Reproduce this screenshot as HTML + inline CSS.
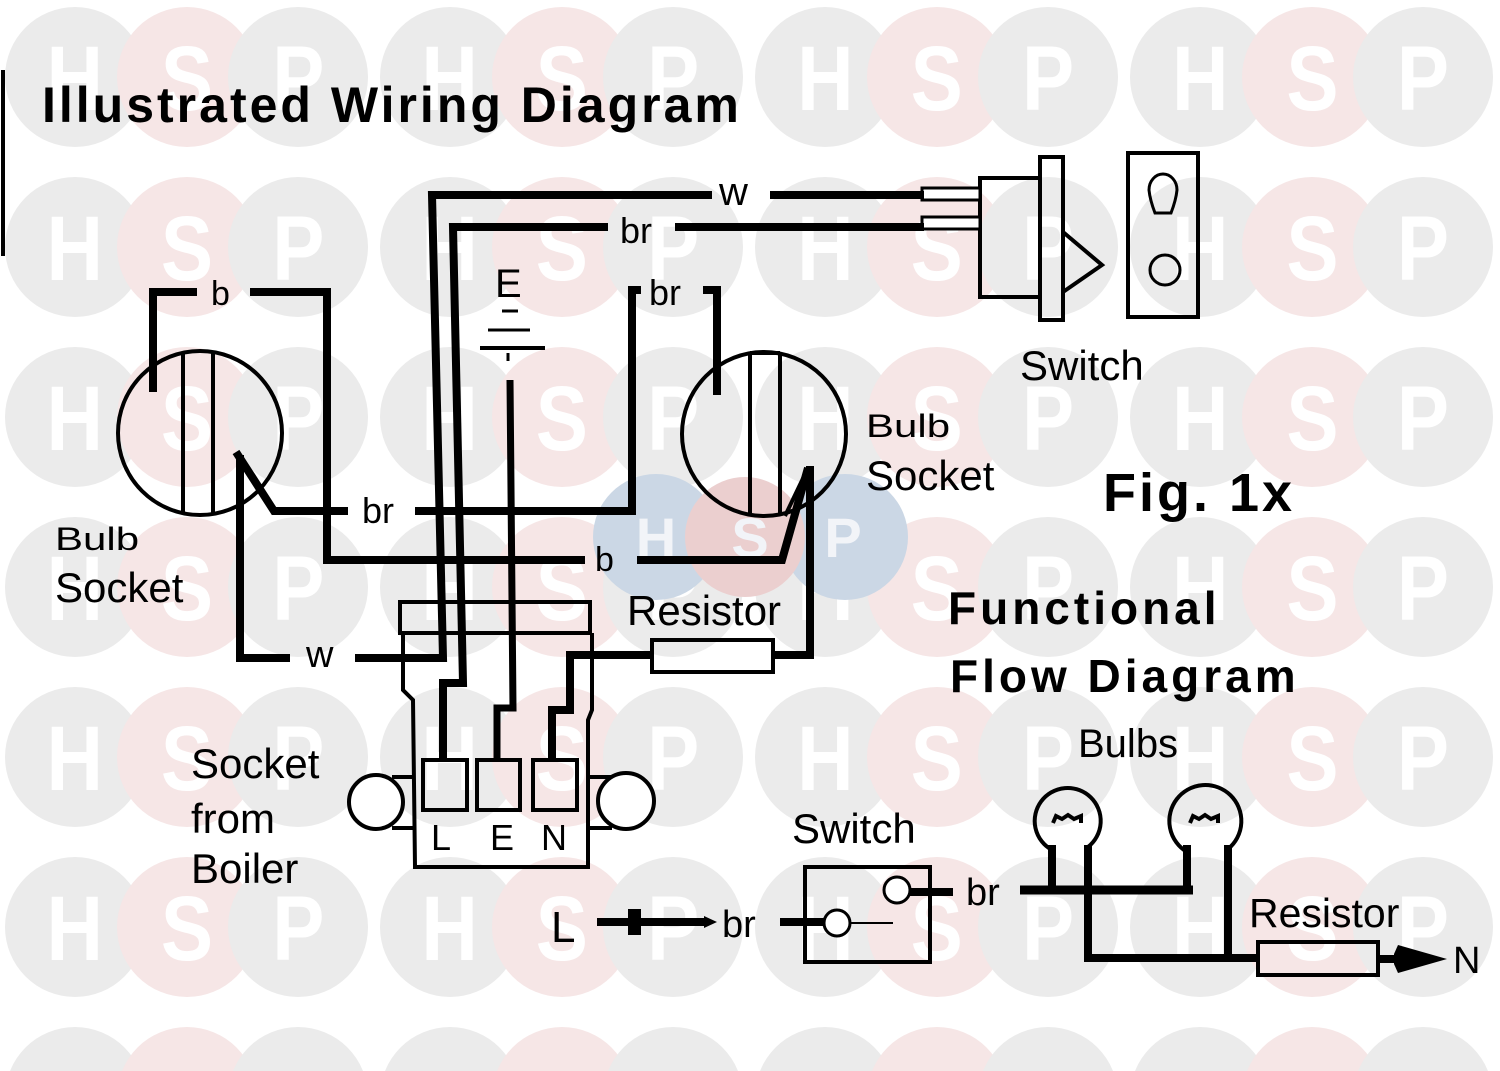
<!DOCTYPE html>
<html>
<head>
<meta charset="utf-8">
<style>
html,body{margin:0;padding:0;background:#fff;width:1500px;height:1071px;overflow:hidden;}
svg{display:block;}
text{font-family:"Liberation Sans",sans-serif;}
</style>
</head>
<body>
<svg width="1500" height="1071" viewBox="0 0 1500 1071" xmlns="http://www.w3.org/2000/svg">
<defs>
<pattern id="wm" patternUnits="userSpaceOnUse" x="0" y="0" width="375" height="170">
<circle cx="75" cy="77" r="70" fill="#ebebeb"/>
<circle cx="187" cy="77" r="70" fill="#f6e6e6"/>
<circle cx="298" cy="77" r="70" fill="#ebebeb"/>
</pattern>
</defs>
<rect x="0" y="0" width="1500" height="1071" fill="#fff"/>
<rect x="0" y="0" width="1500" height="1071" fill="url(#wm)"/>
<g transform="scale(0.85,1)" fill="#ffffff" font-weight="bold" font-size="92" text-anchor="middle">
<text x="88 220 351 529 661 792 971 1102 1233 1412 1544 1674" y="110">HSPHSPHSPHSP</text>
<text x="88 220 351 529 661 792 971 1102 1233 1412 1544 1674" y="280">HSPHSPHSPHSP</text>
<text x="88 220 351 529 661 792 971 1102 1233 1412 1544 1674" y="450">HSPHSPHSPHSP</text>
<text x="88 220 351 529 661 792 971 1102 1233 1412 1544 1674" y="620">HSPHSPHSPHSP</text>
<text x="88 220 351 529 661 792 971 1102 1233 1412 1544 1674" y="790">HSPHSPHSPHSP</text>
<text x="88 220 351 529 661 792 971 1102 1233 1412 1544 1674" y="960">HSPHSPHSPHSP</text>
</g>

<!-- center watermark -->
<circle cx="656" cy="537" r="63" fill="#cbd7e5"/>
<circle cx="845" cy="537" r="63" fill="#cbd7e5"/>
<circle cx="745" cy="537" r="60" fill="#ebcfcf"/>
<g fill="#f2f4f8" font-weight="bold" font-size="56" text-anchor="middle">
<text x="656" y="557">H</text>
<text x="750" y="557">S</text>
<text x="843" y="557">P</text>
</g>

<!-- left border mark -->
<line x1="3" y1="70" x2="3" y2="256" stroke="#000" stroke-width="4"/>

<!-- Title -->
<text x="42" y="122" font-size="50" font-weight="bold" letter-spacing="3" fill="#000">Illustrated Wiring Diagram</text>

<!-- thin outlines -->
<g fill="none" stroke="#000" stroke-width="4">
  <circle cx="200" cy="433" r="82"/>
  <line x1="183" y1="353" x2="183" y2="513"/>
  <line x1="213" y1="352" x2="213" y2="514"/>
  <circle cx="764" cy="434" r="82"/>
  <line x1="750" y1="353" x2="750" y2="515"/>
  <line x1="780" y1="353" x2="780" y2="515"/>
  <line x1="750" y1="353" x2="780" y2="353"/>
  <line x1="785" y1="516" x2="808" y2="468"/>
  <rect x="400" y="602" width="190" height="31"/>
  <path d="M403 633 L403 690 L413 700 L415 867 L588 867 L588 720 L592 710 L592 633"/>
  <circle cx="376" cy="802" r="27" fill="#fff"/>
  <line x1="392" y1="777" x2="415" y2="777"/>
  <line x1="392" y1="828" x2="415" y2="828"/>
  <circle cx="626" cy="801" r="28" fill="#fff"/>
  <line x1="588" y1="777" x2="612" y2="777"/>
  <line x1="588" y1="828" x2="612" y2="828"/>
  <rect x="423" y="760" width="44" height="50"/>
  <rect x="477" y="760" width="43" height="50"/>
  <rect x="533" y="760" width="44" height="50"/>
  <rect x="652" y="640" width="121" height="32"/>
  <rect x="980" y="178" width="60" height="119"/>
  <rect x="1040" y="157" width="23" height="163"/>
  <polyline points="1063,232 1102,265 1063,292"/>
  <rect x="1128" y="153" width="70" height="164"/>
  <path d="M1155 213 L1171 213 Q1176 200 1177 190 A14 16 0 1 0 1149 190 Q1150 200 1155 213 Z" stroke-width="3"/>
  <circle cx="1165" cy="270" r="15" stroke-width="3"/>
  <rect x="805" y="867" width="125" height="95"/>
  <rect x="1258" y="942" width="120" height="33"/>
  <path d="M1052 850 A33 33 0 1 1 1088 847"/>
  <path d="M1187 852 A36 36 0 1 1 1228 849"/>
</g>

<g fill="#fff" stroke="#000" stroke-width="3">
  <rect x="922" y="188" width="58" height="12"/>
  <rect x="922" y="217" width="58" height="12"/>
</g>

<g stroke="#000" fill="none">
  <line x1="502" y1="311" x2="518" y2="311" stroke-width="3"/>
  <line x1="488" y1="330" x2="530" y2="330" stroke-width="3"/>
  <line x1="480" y1="348" x2="545" y2="348" stroke-width="4"/>
  <line x1="508" y1="353" x2="508" y2="361" stroke-width="3"/>
</g>

<g fill="none" stroke="#000" stroke-width="8" stroke-linejoin="miter">
  <path d="M355 658 L443 658 L432 195 L712 195"/>
  <path d="M770 195 L924 195"/>
  <path d="M290 658 L240 658 L240 455"/>
  <path d="M608 227 L453 227 L463 683 L443 683 L443 762"/>
  <path d="M675 227 L924 227"/>
  <path d="M510 380 L513 708 L497 708 L497 762" stroke-width="7"/>
  <path d="M652 655 L570 655 L570 710 L552 710 L552 762"/>
  <path d="M773 655 L810 655 L810 466"/>
  <path d="M153 392 L153 292 L197 292"/>
  <path d="M250 292 L327 292 L327 560 L585 560"/>
  <path d="M637 560 L782 560 L808 468"/>
  <path d="M236 452 L274 511 L348 511"/>
  <path d="M415 511 L632 511 L632 290 L641 290"/>
  <path d="M703 290 L717 290 L717 395"/>
  <path d="M597 922 L708 922"/>
  <path d="M780 922 L825 922"/>
  <path d="M910 892 L953 892"/>
  <path d="M1052 845 L1052 890"/>
  <path d="M1088 845 L1088 962"/>
  <path d="M1187 845 L1187 890"/>
  <path d="M1228 845 L1228 958"/>
  <path d="M1020 890 L1193 890" stroke-width="9"/>
  <path d="M1084 958 L1258 958"/>
  <path d="M1378 959 L1398 959"/>
</g>

<rect x="628" y="909" width="13" height="26" fill="#000"/>
<polygon points="704,916 717,922 704,928" fill="#000"/>
<polygon points="1394,954 1398,945 1447,959 1398,973 1394,964" fill="#000"/>
<circle cx="837" cy="923" r="13" fill="#fff" stroke="#000" stroke-width="3"/>
<line x1="850" y1="923" x2="893" y2="923" stroke="#000" stroke-width="2"/>
<circle cx="897" cy="890" r="13" fill="#fff" stroke="#000" stroke-width="3"/>
<path d="M1053 823 L1056 816 L1062 819 L1068 815 L1074 819 L1081 816 L1081 823" fill="none" stroke="#000" stroke-width="4"/>
<path d="M1190 823 L1193 816 L1199 819 L1205 815 L1211 819 L1218 816 L1218 823" fill="none" stroke="#000" stroke-width="4"/>

<g fill="#000">
  <text x="495" y="297" font-size="40">E</text>
  <text x="719" y="205" font-size="40">w</text>
  <text x="620" y="243" font-size="36">br</text>
  <text x="649" y="305" font-size="36">br</text>
  <text x="211" y="305" font-size="34">b</text>
  <text x="362" y="523" font-size="36">br</text>
  <text x="595" y="571" font-size="34">b</text>
  <text x="306" y="667" font-size="38">w</text>

  <text x="1020" y="380" font-size="42">Switch</text>
  <text transform="translate(866,437) scale(1,0.78)" x="0" y="0" font-size="42">Bulb</text>
  <text x="866" y="490" font-size="42">Socket</text>
  <text transform="translate(55,550) scale(1,0.78)" x="0" y="0" font-size="42">Bulb</text>
  <text x="55" y="602" font-size="42">Socket</text>
  <text x="627" y="625" font-size="42">Resistor</text>
  <text x="191" y="778" font-size="42">Socket</text>
  <text x="191" y="833" font-size="42">from</text>
  <text x="191" y="883" font-size="42">Boiler</text>

  <text x="431" y="850" font-size="36">L</text>
  <text x="490" y="850" font-size="36">E</text>
  <text x="541" y="850" font-size="36">N</text>

  <text x="1103" y="511" font-size="54" font-weight="bold" letter-spacing="3">Fig. 1x</text>
  <text x="948" y="624" font-size="46" font-weight="bold" letter-spacing="4">Functional</text>
  <text x="950" y="692" font-size="46" font-weight="bold" letter-spacing="4">Flow Diagram</text>

  <text x="1078" y="757" font-size="40">Bulbs</text>
  <text x="792" y="843" font-size="42">Switch</text>
  <text x="551" y="942" font-size="44">L</text>
  <text x="722" y="937" font-size="38">br</text>
  <text x="966" y="905" font-size="38">br</text>
  <text x="1249" y="927" font-size="41">Resistor</text>
  <text x="1453" y="973" font-size="38">N</text>
</g>
</svg>
</body>
</html>
